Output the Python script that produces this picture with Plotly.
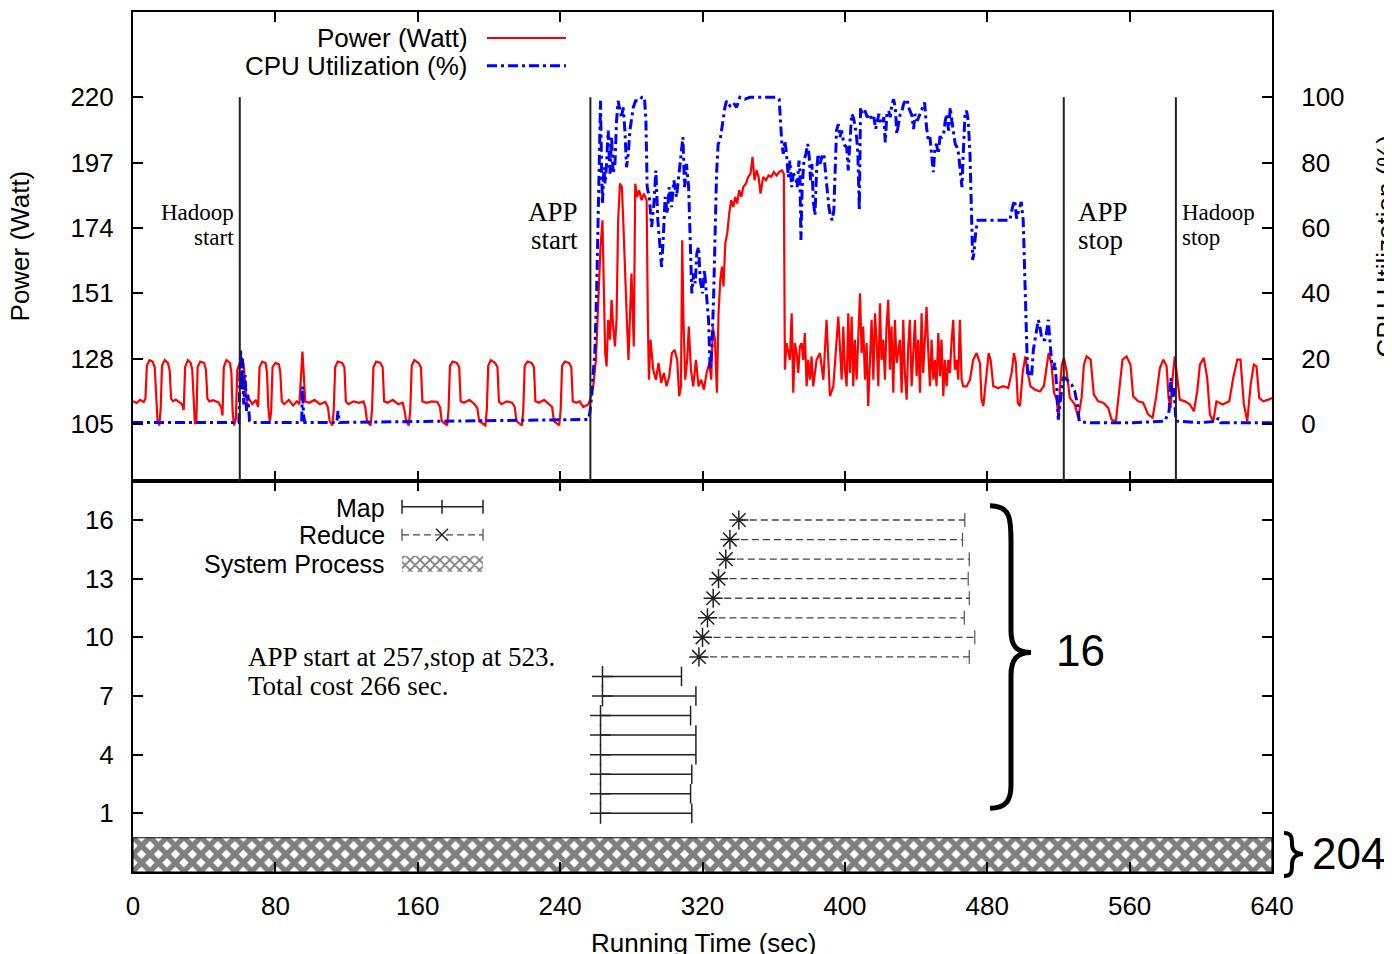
import plotly.graph_objects as go
from plotly.subplots import make_subplots

# ---------------- data ----------------
x_ticks = [0, 80, 160, 240, 320, 400, 480, 560, 640]
power_ticks = [105, 128, 151, 174, 197, 220]
cpu_ticks = [0, 20, 40, 60, 80, 100]
task_ticks = [1, 4, 7, 10, 13, 16]

events_t = [60, 257, 523, 586]
events_text = [("Hadoop", "start"), ("APP", "start"), ("APP", "stop"), ("Hadoop", "stop")]

# power (W) before the application runs
power_pre = [
    (0, 113.0), (2, 112.4), (4, 113.5), (6, 112.8), (7, 114), (7.8, 125.5), (9.2, 127.5), (11, 127),
    (12.2, 125), (13, 113), (13.8, 106), (14.8, 104.5), (15.6, 111), (16.3, 125.5), (17.8, 127.5),
    (19.6, 126.5), (20.6, 124), (21.4, 114), (22.5, 113), (24, 113.6), (26, 112.5), (27.5, 112),
    (28.5, 110), (29.3, 125), (30.8, 127.5), (32.5, 126.5), (33.3, 124), (34, 112), (34.8, 105),
    (35.6, 106), (36.3, 125), (37.8, 127), (40, 126.5), (41, 124), (41.8, 114), (43, 113), (45, 113.4),
    (48, 112.6), (49.5, 111), (50.3, 108), (51, 125), (52.5, 127.5), (54.5, 126.5), (55.3, 123),
    (56, 109), (56.8, 104.5), (57.8, 107), (58.6, 124), (60, 127), (61, 128.5), (62.2, 126), (63, 118),
    (63.8, 113), (65, 114), (67, 112), (69, 113.5), (70.3, 111), (71.1, 125), (72.6, 127), (74.5, 126.5),
    (75.3, 123), (76, 111), (76.8, 106), (77.6, 109), (78.4, 125), (80, 126.5), (82, 126), (82.8, 123),
    (83.6, 113), (85, 112), (87.5, 113.5), (90, 111.5), (92, 113), (93.5, 112), (94.5, 121),
    (95.2, 130.5), (96, 122), (96.8, 113), (99, 112.5), (102, 113.5), (105, 112), (108, 112.8),
    (109.5, 111), (110.5, 106), (112, 104.5), (112.8, 110), (113.6, 125), (115, 127), (117.5, 126.5),
    (118.8, 125), (119.6, 113), (121, 112), (124, 113), (127, 112.5), (129.5, 113), (130.5, 111),
    (131.5, 106), (133.5, 104.5), (134.3, 110), (135.1, 125), (136.6, 127), (139, 126.5), (140.3, 125),
    (141.1, 113), (143, 112.5), (146, 113.5), (149, 112), (151.5, 112.5), (152.5, 110), (153.5, 106),
    (155, 104.5), (155.8, 110), (156.6, 125.5), (158, 127.5), (160.5, 126.5), (161.8, 125),
    (162.6, 113), (165, 112.5), (168, 113), (171, 112.8), (172.5, 111), (173.5, 106), (176.5, 104.5),
    (177.3, 110), (178.1, 125.5), (179.6, 127), (182, 126.5), (183.3, 125), (184.1, 113), (186, 112.5),
    (189, 113.5), (192, 112), (193.5, 110.5), (194.5, 106), (198, 104.5), (198.8, 110), (199.6, 125.5),
    (201, 127.5), (203.5, 126.5), (204.8, 125), (205.6, 113), (207, 112), (210, 113), (213, 112.5),
    (214.5, 111), (215.5, 106), (218.5, 104.5), (219.3, 110), (220.1, 125.5), (221.6, 127),
    (224, 126.5), (225.3, 125), (226.1, 113), (228, 112.5), (231, 113.5), (234, 112), (235.5, 111),
    (236.5, 106), (239.5, 104.5), (240.3, 110), (241.1, 125.5), (242.6, 127), (245, 126.5),
    (246.3, 125), (247.1, 113), (249, 112.5), (251, 113), (253, 111), (254.5, 111.5), (256, 112),
    (257, 114),
]

# power (W) while the application runs
power_app = [
    (258.6, 118.3), (260.1, 127.6), (261.4, 147.5), (262.7, 167.4), (263.8, 176.7), (264.6, 153.4),
    (265.3, 130.0), (266.1, 125.3), (267.0, 141.7), (268.0, 134.7), (268.9, 148.7), (269.8, 139.3),
    (270.8, 132.3), (271.7, 141.7), (272.6, 176.7), (273.6, 189.6), (274.7, 188.4), (275.6, 174.4),
    (276.6, 153.4), (277.5, 141.7), (278.4, 127.6), (279.4, 151.0), (280.1, 158.0), (280.9, 141.7),
    (281.4, 132.3), (282.2, 189.6), (283.3, 184.9), (284.4, 187.3), (285.8, 183.8), (287.0, 186.1),
    (288.6, 183.8), (289.3, 141.7), (289.9, 120.6), (290.8, 134.7), (292.3, 124.1), (293.8, 120.6),
    (295.3, 126.5), (296.8, 119.5), (298.3, 123.0), (299.8, 118.3), (301.3, 121.8), (302.8, 130.0),
    (304.3, 131.1), (305.8, 127.6), (306.9, 114.8), (307.9, 118.3), (308.6, 169.7), (309.3, 141.7),
    (310.3, 120.6), (311.4, 127.6), (312.3, 139.3), (313.5, 124.1), (314.8, 118.3), (316.3, 127.6),
    (317.8, 118.3), (319.3, 120.6), (320.8, 117.1), (322.3, 123.0), (323.8, 126.5), (324.9, 120.6),
    (325.8, 139.3), (327.0, 134.7), (328.1, 116.0), (329.0, 144.0), (330.0, 155.7), (330.9, 160.4),
    (331.8, 153.4), (332.8, 168.6), (333.9, 172.1), (335.0, 179.1), (336.1, 183.8), (337.3, 181.4),
    (338.4, 184.9), (339.5, 182.6), (340.6, 187.3), (341.8, 184.9), (342.9, 188.4), (344.4, 189.6),
    (345.7, 192.0), (347.0, 193.1), (348.1, 199.0), (349.2, 190.8), (350.4, 194.3), (351.5, 192.0),
    (352.6, 186.1), (354.1, 192.0), (355.6, 190.8), (357.1, 192.5), (358.6, 192.0), (360.1, 193.7),
    (361.6, 192.5), (363.1, 193.7), (364.6, 194.3), (365.7, 193.1), (366.3, 124.1), (367.2, 133.5),
    (369.1, 127.6), (370.1, 144.0), (371.0, 116.0), (371.9, 133.5), (372.9, 130.0), (373.8, 123.0),
    (374.7, 132.3), (375.7, 133.5), (376.6, 127.6), (377.5, 137.0), (378.5, 118.3), (379.4, 127.6),
    (380.4, 120.6), (381.3, 128.8), (382.2, 118.3), (384.1, 127.6), (386.0, 130.0), (387.9, 120.6),
    (389.7, 141.7), (390.7, 127.6), (391.6, 114.8), (393.5, 118.3), (395.3, 134.7), (396.3, 142.8),
    (397.2, 132.3), (398.2, 120.6), (399.1, 139.3), (400.0, 124.1), (401.0, 118.3), (401.9, 144.0),
    (402.8, 123.0), (403.8, 142.8), (404.7, 118.3), (405.6, 134.7), (406.6, 120.6), (407.5, 135.8),
    (408.5, 151.0), (409.4, 130.0), (410.3, 139.3), (411.3, 120.6), (412.2, 133.5), (413.1, 111.3),
    (414.1, 130.0), (415.0, 141.7), (416.0, 120.6), (416.9, 144.0), (417.8, 134.7), (418.8, 118.3),
    (419.7, 147.5), (420.6, 127.6), (421.6, 134.7), (422.5, 120.6), (423.4, 139.3), (424.4, 148.7),
    (425.3, 124.1), (426.2, 139.3), (427.2, 116.0), (428.1, 141.7), (429.1, 126.5), (430.9, 134.7),
    (431.9, 116.0), (432.8, 141.7), (433.7, 123.0), (434.7, 113.6), (435.6, 132.3), (436.5, 141.7),
    (437.5, 118.3), (438.4, 132.3), (439.4, 141.7), (440.3, 121.8), (441.2, 134.7), (442.2, 116.0),
    (443.1, 144.0), (444.0, 123.0), (445.9, 146.3), (446.9, 130.0), (447.8, 118.3), (448.7, 134.7),
    (449.7, 120.6), (450.6, 127.6), (451.5, 118.3), (452.5, 137.0), (453.4, 121.8), (454.3, 134.7),
    (455.3, 114.8), (456.2, 127.6), (457.2, 118.3), (458.1, 127.6), (459.0, 123.0), (460.0, 134.7),
    (460.9, 141.7), (461.8, 124.1), (462.8, 127.6), (463.7, 120.6), (464.6, 141.7), (465.6, 120.6),
    (466.5, 118.3), (468.4, 118.3), (470.3, 120.6), (472.1, 127.6), (474.0, 130.0), (475.9, 126.5),
    (476.8, 113.6), (477.8, 111.3), (479.3, 121.8), (480.8, 130.0), (481.9, 127.6), (483.4, 118.3),
    (486.2, 117.7), (489.0, 118.3), (491.8, 117.7), (493.7, 123.0), (495.0, 130.0), (496.1, 126.5),
    (497.2, 112.4), (498.4, 111.3), (499.9, 123.0), (501.4, 128.8), (502.8, 123.0), (504.3, 118.3),
    (506.8, 117.1), (509.6, 116.5), (511.8, 118.3), (513.3, 125.3), (514.5, 130.0), (516.0, 126.5),
    (517.5, 116.0), (519.0, 113.6), (520.1, 106.6),
]

# power (W) after the application
power_post = [
    (520.8, 117.7), (521.9, 125.9), (523.1, 128.3), (524.6, 123.6), (526.4, 114.2), (529.2, 111.9),
    (531.1, 107.2), (533.0, 114.2), (534.3, 125.9), (535.8, 128.8), (538.1, 127.7), (539.9, 115.4),
    (542.4, 113.0), (545.2, 112.5), (548.0, 110.7), (549.8, 106.6), (552.3, 106.0), (554.2, 116.6),
    (556.0, 127.7), (558.3, 128.8), (560.5, 125.9), (562.0, 114.8), (564.8, 113.0), (567.6, 112.5),
    (570.4, 108.4), (572.9, 107.2), (574.8, 114.2), (577.0, 124.7), (578.9, 127.7), (580.8, 125.3),
    (581.9, 114.2), (583.0, 110.7), (584.1, 121.2), (585.4, 128.8), (586.7, 121.2), (588.2, 113.6),
    (591.1, 113.0), (593.9, 111.9), (596.1, 109.5), (598.0, 116.6), (599.5, 125.9), (601.7, 128.3),
    (603.6, 121.2), (605.1, 108.4), (607.0, 106.0), (608.8, 113.0), (612.2, 111.9), (616.0, 113.0),
    (618.2, 121.2), (620.5, 127.7), (622.3, 127.7), (624.2, 111.9), (626.1, 106.0), (628.0, 118.9),
    (629.8, 125.9), (631.3, 125.3), (632.8, 114.2), (635.1, 113.0), (637.9, 113.6), (640.0, 114.2),
]

# CPU utilization (%)
cpu_pre = [
    (0, 0.5), (59.5, 0.5), (60, 12), (60.5, 23), (61, 10), (61.5, 20), (62.2, 6), (63, 15), (63.8, 4),
    (64.5, 9), (65.5, 1), (67, 0.5), (94.8, 0.5), (95.2, 11.5), (95.8, 3), (96.5, 0.5), (114.5, 0.5),
    (115.2, 4), (116, 0.5), (255.8, 1.4), (256.7, 3.4), (257.7, 8.5),
]

cpu_app = [
    (258.6, 15.6), (259.5, 21.7), (260.5, 40.0), (261.4, 62.4), (262.0, 77.6), (262.7, 98.9),
    (263.3, 77.6), (263.8, 67.4), (264.6, 78.6), (265.3, 73.5), (266.1, 79.6), (267.0, 89.8),
    (268.0, 76.6), (268.9, 87.8), (269.8, 76.6), (270.8, 79.6), (271.7, 92.8), (272.6, 98.9),
    (273.6, 95.9), (274.5, 93.9), (275.4, 96.9), (276.4, 89.8), (277.3, 78.6), (278.3, 82.7),
    (279.2, 89.8), (280.1, 92.8), (281.1, 96.9), (282.4, 98.9), (284.3, 98.9), (285.9, 100.0),
    (287.4, 100.0), (288.2, 92.8), (288.9, 72.5), (290.1, 69.5), (291.4, 60.3), (292.7, 67.4),
    (293.8, 77.6), (294.9, 62.4), (296.1, 54.2), (297.0, 48.1), (297.9, 56.3), (299.0, 69.5),
    (300.2, 64.4), (301.3, 72.5), (302.6, 66.4), (303.9, 74.6), (305.4, 69.5), (306.9, 76.6),
    (308.0, 82.7), (309.0, 87.8), (309.9, 72.5), (311.0, 79.6), (312.2, 72.5), (313.1, 52.2),
    (314.0, 40.0), (315.0, 46.1), (315.9, 43.1), (316.8, 52.2), (317.8, 54.2), (318.7, 44.1),
    (320.0, 40.0), (321.1, 47.1), (322.3, 39.0), (323.4, 31.9), (324.3, 16.6), (325.3, 23.8),
    (326.2, 38.0), (327.1, 57.3), (327.9, 76.6), (328.8, 85.7), (329.8, 86.7), (330.7, 89.8),
    (331.6, 93.9), (332.6, 96.9), (333.5, 98.9), (335.4, 97.4), (337.3, 98.4), (339.1, 96.9),
    (341.0, 100.0), (343.8, 99.4), (346.6, 100.0), (350.4, 100.0), (354.1, 100.0), (357.9, 100.0),
    (361.6, 100.0), (363.1, 99.4), (363.9, 92.8), (364.6, 85.7), (365.4, 82.7), (366.3, 86.7),
    (367.2, 82.7), (368.2, 75.6), (369.1, 80.6), (370.1, 72.5), (371.0, 76.6), (372.3, 75.6),
    (373.2, 72.5), (374.2, 80.6), (374.7, 77.6), (375.3, 56.3), (376.0, 72.5), (377.0, 80.6),
    (378.1, 82.7), (379.1, 85.7), (380.0, 81.7), (380.7, 74.6), (381.5, 79.6), (382.2, 68.5),
    (383.2, 63.9), (384.1, 77.6), (385.0, 82.7), (386.0, 79.6), (387.1, 81.7), (388.2, 82.7),
    (389.2, 76.6), (390.1, 71.5), (391.0, 66.4), (392.0, 63.4), (392.9, 62.4), (393.8, 65.4),
    (394.6, 77.6), (395.3, 89.8), (396.3, 91.8), (397.2, 87.8), (398.2, 89.8), (399.1, 86.7),
    (400.0, 85.2), (401.0, 84.7), (401.9, 77.6), (402.8, 84.7), (403.8, 94.9), (404.7, 93.9),
    (405.6, 91.8), (406.6, 87.8), (407.3, 82.7), (408.1, 65.4), (408.8, 96.9), (409.9, 94.9),
    (411.3, 95.9), (412.6, 93.9), (414.1, 94.9), (415.2, 92.8), (416.3, 93.9), (417.3, 90.3),
    (418.2, 92.8), (419.1, 94.9), (420.1, 92.3), (421.0, 91.8), (421.9, 93.9), (422.7, 86.2),
    (423.6, 94.9), (424.6, 95.9), (425.5, 93.9), (426.4, 97.9), (427.4, 99.4), (428.3, 96.9),
    (429.2, 88.8), (430.2, 91.8), (431.1, 94.9), (432.1, 95.9), (433.0, 97.9), (433.9, 98.9),
    (434.9, 99.4), (435.8, 96.9), (436.7, 95.9), (437.7, 94.4), (438.6, 90.3), (439.5, 94.9),
    (440.7, 92.8), (442.2, 94.9), (443.7, 96.9), (444.8, 98.4), (445.9, 90.8), (446.9, 86.7),
    (447.8, 87.8), (448.7, 82.7), (449.7, 77.1), (450.6, 84.7), (451.5, 85.7), (452.5, 82.7),
    (453.4, 87.8), (454.5, 87.8), (455.5, 88.8), (456.4, 92.8), (457.3, 94.9), (458.3, 89.8),
    (459.2, 96.9), (460.1, 92.8), (461.1, 88.8), (462.0, 85.7), (463.0, 84.7), (463.9, 82.7),
    (464.8, 77.6), (465.8, 72.5), (466.5, 82.7), (467.5, 94.9), (468.4, 95.9), (469.3, 92.8),
    (470.3, 82.7), (471.0, 62.4), (471.8, 50.2), (472.5, 52.2), (473.6, 59.3), (474.8, 62.4),
    (479.6, 62.4), (487.1, 62.4), (492.7, 62.4), (494.2, 66.4), (495.4, 68.5), (496.5, 62.9),
    (498.0, 66.4), (499.1, 68.0), (500.2, 62.4), (501.2, 42.0), (502.1, 21.7), (502.7, 14.6),
    (503.6, 15.6), (504.9, 14.6), (505.9, 22.7), (506.8, 25.8), (507.7, 27.8), (508.7, 31.9),
    (509.6, 29.8), (510.7, 25.8), (512.4, 25.8), (513.3, 27.8), (514.3, 31.9), (515.2, 25.8),
    (516.2, 18.7), (517.1, 16.6), (518.0, 18.7), (519.0, 11.6), (519.9, 1.4),
]

cpu_post = [
    (520.8, 6.0), (521.8, 10.0), (522.7, 14.1), (523.8, 14.1), (525.5, 13.1), (527.4, 12.1),
    (529.2, 10.0), (530.6, 6.0), (531.7, 0.9), (535.8, 0.4), (562.0, 0.4), (579.8, 0.9), (582.2, 4.0),
    (583.2, 14.1), (584.1, 8.0), (584.9, 11.0), (586.0, 0.9), (599.5, 0.4), (608.8, 0.9), (609.8, 1.9),
    (611.1, 0.4), (640.0, 0.4),
]

# task timeline: rows and start/end seconds
map_rows = [1, 2, 3, 4, 5, 6, 7, 8]
map_start = [262.7, 262.7, 262.7, 262.7, 262.7, 262.7, 263.8, 263.8]
map_end = [314.0, 313.3, 314.0, 316.3, 316.3, 313.3, 316.3, 308.2]
reduce_rows = [9, 10, 11, 12, 13, 14, 15, 16]
reduce_start = [318.0, 320.0, 322.8, 326.0, 329.0, 333.1, 335.4, 340.4]
reduce_end = [469.9, 473.0, 467.1, 469.9, 469.3, 469.9, 466.1, 467.4]
sys_t = [0, 640]
sys_y = [-2, -0.25]

# ---------------- layout helpers (pixels of the 1392x954 page) ----------------
W, H = 1392, 954
OFF = 8  # the page body margin shifts the figure by this much
L, R, T, B, MID = 133, 1272, 10, 872, 480
SANS = "Liberation Sans, Arial, sans-serif"
SERIF = "Liberation Serif, Times New Roman, serif"


def fx(px):
    return (px - L) / (R - L)


def fy(py):
    return (B - py) / (B - T)


def bx(px):  # pixel -> seconds
    return (px - L) / (R - L) * 640


def by(py):  # pixel -> task-row units of lower panel
    return -2 + (B - py) / (B - MID) * 20


def unzip(pairs):
    return [p[0] for p in pairs], [p[1] for p in pairs]


pt, pw = unzip(power_pre + power_app + power_post)
ct, cu = unzip(cpu_pre + cpu_app + cpu_post)

fig = make_subplots(rows=2, cols=1, vertical_spacing=0,
                    specs=[[{"secondary_y": True}], [{}]])

fig.add_trace(go.Scatter(x=pt, y=pw, mode="lines", line=dict(color="#ff0000", width=2.2)),
              row=1, col=1, secondary_y=False)
fig.add_trace(go.Scatter(x=ct, y=cu, mode="lines",
                         line=dict(color="#0000ff", width=3, dash="10px,4px,3px,4px")),
              row=1, col=1, secondary_y=True)

# system process band
fig.add_trace(go.Scatter(x=[sys_t[0], sys_t[1], sys_t[1], sys_t[0], sys_t[0]],
                         y=[sys_y[0], sys_y[0], sys_y[1], sys_y[1], sys_y[0]],
                         mode="lines", fill="toself", line=dict(width=1, color="black"),
                         fillpattern=dict(shape="x", fgcolor="black", bgcolor="white",
                                          size=12, solidity=0.7)),
              row=2, col=1)

# map bars
mx, my = [], []
for s, e, r in zip(map_start, map_end, map_rows):
    mx += [s, e, None]
    my += [r, r, None]
fig.add_trace(go.Scatter(x=mx, y=my, mode="lines", line=dict(color="#222", width=1.5)), row=2, col=1)
fig.add_trace(go.Scatter(x=map_start, y=map_rows, mode="markers",
                         marker=dict(symbol="cross-thin-open", size=15, color="#222",
                                     line=dict(color="#222", width=1.5))), row=2, col=1)
fig.add_trace(go.Scatter(x=map_end, y=map_rows, mode="markers",
                         marker=dict(symbol="line-ns-open", size=14, color="#222",
                                     line=dict(color="#222", width=1.5))), row=2, col=1)

# reduce bars
rx, ry = [], []
for s, e, r in zip(reduce_start, reduce_end, reduce_rows):
    rx += [s, e, None]
    ry += [r, r, None]
fig.add_trace(go.Scatter(x=rx, y=ry, mode="lines",
                         line=dict(color="#444", width=1.3, dash="7px,4px")), row=2, col=1)
fig.add_trace(go.Scatter(x=reduce_start, y=reduce_rows, mode="markers",
                         marker=dict(symbol="asterisk-open", size=16, color="#222",
                                     line=dict(color="#222", width=1.5))), row=2, col=1)
fig.add_trace(go.Scatter(x=reduce_end, y=reduce_rows, mode="markers",
                         marker=dict(symbol="line-ns-open", size=10, color="#555",
                                     line=dict(color="#555", width=1.2))), row=2, col=1)

# hatched legend sample for "System Process"
fig.add_trace(go.Scatter(x=[bx(402), bx(483), bx(483), bx(402), bx(402)],
                         y=[by(571), by(571), by(555), by(555), by(571)],
                         mode="lines", fill="toself", line=dict(width=0),
                         fillpattern=dict(shape="x", fgcolor="black", bgcolor="white",
                                          size=7, solidity=0.45)),
              row=2, col=1)

fig.update_traces(showlegend=False, hoverinfo="skip")

ax = dict(showline=True, linecolor="black", linewidth=2, ticks="inside", ticklen=10,
          tickwidth=1.5, tickcolor="black", showgrid=False, zeroline=False,
          tickfont=dict(family=SANS, size=26, color="black"))

fig.update_layout(
    width=W, height=H,
    margin=dict(l=L - OFF, r=W - R + OFF, t=T - OFF, b=H - B + OFF, pad=0),
    paper_bgcolor="white", plot_bgcolor="white",
    showlegend=False,
    xaxis=dict(ax, range=[0, 640], tickvals=x_ticks, showticklabels=False, mirror="ticks",
               domain=[0, 1]),
    xaxis2=dict(ax, range=[0, 640], tickvals=x_ticks, mirror="ticks", ticklabelstandoff=10,
                domain=[0, 1]),
    yaxis=dict(ax, range=[85, 250], tickvals=power_ticks, domain=[fy(MID), 1],
               ticklabelstandoff=12),
    yaxis2=dict(ax, range=[-17.39, 126.09], tickvals=cpu_ticks, side="right",
                ticklabelstandoff=22),
    yaxis3=dict(ax, range=[-2, 18], tickvals=task_ticks, domain=[0, fy(MID)], mirror="ticks",
                ticklabelstandoff=12),
)

shapes = []
for t in events_t:
    shapes.append(dict(type="line", xref="x", yref="y", x0=t, x1=t, y0=220, y1=85,
                       line=dict(color="#222", width=2)))

# top legend samples
shapes.append(dict(type="line", xref="paper", yref="paper", x0=fx(487), x1=fx(566), y0=fy(36),
                   y1=fy(36), line=dict(color="#ff0000", width=2)))
shapes.append(dict(type="line", xref="paper", yref="paper", x0=fx(487), x1=fx(566), y0=fy(64),
                   y1=fy(64), line=dict(color="#0000ff", width=3, dash="10px,4px,3px,4px")))


# lower legend samples
def seg(x0, y0, x1, y1, color="#222", width=1.5, dash="solid"):
    return dict(type="line", xref="paper", yref="paper", x0=fx(x0), x1=fx(x1), y0=fy(y0),
                y1=fy(y1), line=dict(color=color, width=width, dash=dash))


shapes += [seg(402, 506, 483, 506), seg(402, 499, 402, 513), seg(483, 499, 483, 513),
           seg(442, 499, 442, 513)]
shapes += [seg(402, 534, 483, 534, "#444", 1.3, "7px,4px"), seg(402, 528, 402, 540, "#444", 1.2),
           seg(483, 528, 483, 540, "#444", 1.2), seg(436, 528, 448, 540), seg(436, 540, 448, 528)]


def path(points):
    s = "M {:.5f},{:.5f}".format(fx(points[0][0]), fy(points[0][1]))
    rest = points[1:]
    for i in range(0, len(rest), 3):
        a, b, c = rest[i], rest[i + 1], rest[i + 2]
        s += " C {:.5f},{:.5f} {:.5f},{:.5f} {:.5f},{:.5f}".format(
            fx(a[0]), fy(a[1]), fx(b[0]), fy(b[1]), fx(c[0]), fy(c[1]))
    return s


big_brace = [(990, 505), (1012, 505), (1011, 520), (1011, 545), (1011, 600), (1011, 615),
             (1011, 630), (1011, 645), (1016, 652), (1031, 652), (1016, 652), (1011, 660),
             (1011, 675), (1011, 700), (1011, 760), (1011, 785), (1011, 800), (1006, 808),
             (990, 808)]
shapes.append(dict(type="path", xref="paper", yref="paper", path=path(big_brace),
                   line=dict(color="black", width=5)))
small_brace = [(1284, 833), (1292, 833), (1292, 838), (1292, 845), (1292, 850), (1296, 854),
               (1303, 854), (1296, 854), (1292, 858), (1292, 864), (1292, 871), (1292, 876),
               (1284, 876)]
shapes.append(dict(type="path", xref="paper", yref="paper", path=path(small_brace),
                   line=dict(color="black", width=4)))

fig.update_layout(shapes=shapes)


def note(text, px, py, size=26, family=SANS, xanchor="center", angle=0):
    fig.add_annotation(text=text, xref="paper", yref="paper", x=fx(px), y=fy(py),
                       xanchor=xanchor, yanchor="middle", showarrow=False, textangle=angle,
                       font=dict(family=family, size=size, color="black"))


# axis titles
note("Power (Watt)", 20, 245, angle=-90)
note("CPU Utilization (%)", 1386, 245, angle=-90)
note("Running Time (sec)", 703, 943)

# legends
note("Power (Watt)", 470, 36, xanchor="right")
note("CPU Utilization (%)", 470, 64, xanchor="right")
note("Map", 387, 507, size=25, xanchor="right")
note("Reduce", 387, 534, size=25, xanchor="right")
note("System Process", 387, 563, size=25, xanchor="right")

# event labels
label_px = [(236, "right", 23, 211, 236), (580, "right", 27, 210, 239),
            (1076, "left", 27, 210, 239), (1180, "left", 23, 211, 236)]
for (l1, l2), (xp, anc, sz, y1, y2) in zip(events_text, label_px):
    note(l1, xp, y1, size=sz, family=SERIF, xanchor=anc)
    note(l2, xp, y2, size=sz, family=SERIF, xanchor=anc)

note("APP start at 257,stop at 523.", 246, 657, size=27, family=SERIF, xanchor="left")
note("Total cost 266 sec.", 246, 686, size=27, family=SERIF, xanchor="left")

note("16", 1080, 650, size=44)
note("204", 1310, 853, size=44, xanchor="left")

fig.write_html("out.html")
